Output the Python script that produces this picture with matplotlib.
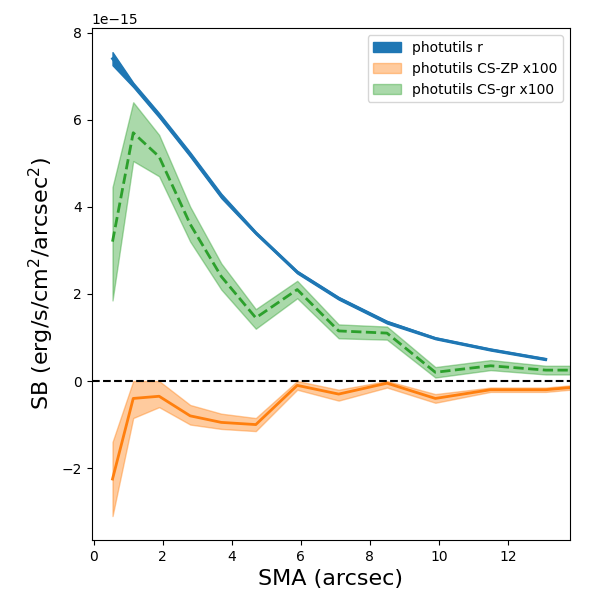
import numpy as np
import matplotlib.pyplot as plt

sma = [0.55, 1.15, 1.9, 2.8, 3.7, 4.7, 5.9, 7.1, 8.5, 9.9, 11.5, 13.1, 13.8]

r_mid = [7.4, 6.8, 6.1, 5.2, 4.25, 3.4, 2.5, 1.9, 1.35, 0.98, 0.72, 0.5]
r_lo = [7.25, 6.75, 6.05, 5.15, 4.2, 3.37, 2.47, 1.87, 1.32, 0.96, 0.7, 0.48]
r_hi = [7.55, 6.85, 6.15, 5.25, 4.3, 3.43, 2.53, 1.93, 1.38, 1.0, 0.74, 0.52]

gr_mid = [3.2, 5.7, 5.15, 3.6, 2.4, 1.45, 2.1, 1.15, 1.1, 0.2, 0.35, 0.25, 0.25]
gr_lo = [1.85, 5.05, 4.7, 3.2, 2.1, 1.2, 1.9, 0.98, 0.95, 0.08, 0.25, 0.15, 0.15]
gr_hi = [4.45, 6.4, 5.65, 4.0, 2.7, 1.65, 2.3, 1.3, 1.25, 0.32, 0.48, 0.35, 0.35]

zp_mid = [-2.25, -0.4, -0.35, -0.8, -0.95, -1.0, -0.1, -0.3, -0.05, -0.4, -0.2, -0.2, -0.15]
zp_lo = [-3.1, -0.85, -0.6, -1.0, -1.1, -1.15, -0.2, -0.45, -0.15, -0.5, -0.25, -0.25, -0.2]
zp_hi = [-1.4, 0.0, 0.0, -0.55, -0.75, -0.85, 0.0, -0.2, 0.0, -0.3, -0.15, -0.15, -0.1]

s = 1e-15
x = np.array(sma)
xr = x[:len(r_mid)]

fig, ax = plt.subplots(figsize=(6, 6), dpi=100)
ax.fill_between(xr, np.array(r_lo) * s, np.array(r_hi) * s, color='C0', label='photutils r')
ax.plot(xr, np.array(r_mid) * s, color='C0', lw=2)
ax.fill_between(x, np.array(zp_lo) * s, np.array(zp_hi) * s, color='C1', alpha=0.4, label='photutils CS-ZP x100')
ax.plot(x, np.array(zp_mid) * s, color='C1', lw=2)
ax.fill_between(x, np.array(gr_lo) * s, np.array(gr_hi) * s, color='C2', alpha=0.4, label='photutils CS-gr x100')
ax.plot(x, np.array(gr_mid) * s, color='C2', lw=2, ls='--')
ax.axhline(0, color='k', ls='--')

ax.set_xlim(-0.05, 13.8)
ax.set_ylim(-3.65e-15, 8.1e-15)
ax.set_xlabel('SMA (arcsec)', fontsize=16)
ax.set_ylabel('SB (erg/s/cm$^2$/arcsec$^2$)', fontsize=16)
ax.legend(loc='upper right')
fig.subplots_adjust(left=0.153, right=0.95, top=0.953, bottom=0.1)
plt.savefig('out.png')
